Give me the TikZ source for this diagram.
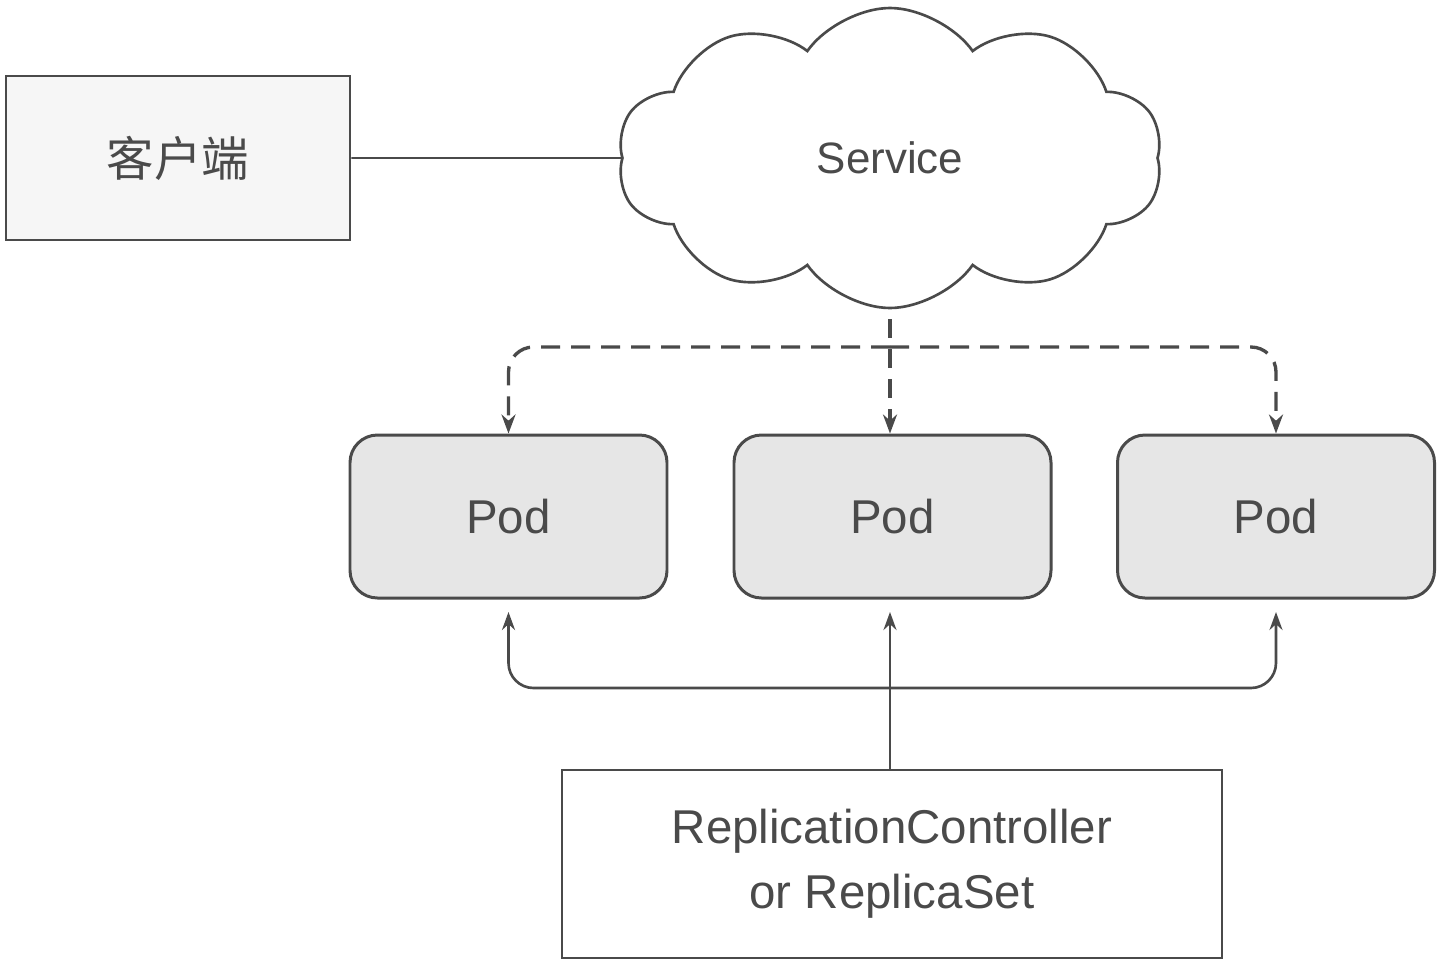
\documentclass[tikz,border=0pt]{standalone}
\usepackage{fontspec}
\setmainfont{Liberation Sans}
\newfontfamily\cjk{Noto Sans CJK SC}
\usepackage{tikz}
\usetikzlibrary{shapes.geometric, shapes.symbols, arrows, arrows.meta}
\usetikzlibrary{positioning}
\definecolor{ink}{HTML}{4A4A4A}
\definecolor{podfill}{HTML}{E6E6E6}
\definecolor{boxfill}{HTML}{F6F6F6}
\tikzstyle{arrow} = [line width=1.5pt,-{Stealth[length=0.36cm,width=0.26cm]},draw=ink]
\tikzstyle{dasharrow} = [line width=1.9pt,-{Stealth[length=0.38cm,width=0.28cm]},draw=ink,dash pattern=on 0.38cm off 0.22cm]
\tikzstyle{podbox} = [draw=ink,line width=1.7pt,fill=podfill,rounded corners=0.55cm,minimum width=6.34cm,minimum height=3.26cm,text=ink,font=\fontsize{27}{32}\selectfont]
\tikzstyle{plainbox} = [draw=ink,line width=1.5pt,text=ink,font=\fontsize{27}{37}\selectfont,align=center]

\begin{document}
\begin{tikzpicture}[thick]
\useasboundingbox (0,0) rectangle (28.88,-19.36);
\fill[white] (0,0) rectangle (28.88,-19.36);
% client and service
\node[plainbox,fill=boxfill,minimum width=6.88cm,minimum height=3.28cm] (client) at (3.56,-3.16) {\cjk 客户端};
\node[cloud,draw=ink,line width=1.5pt,fill=white,cloud puffs=10,cloud puff arc=110,minimum width=10.9cm,minimum height=6.0cm,text=ink,font=\fontsize{25}{30}\selectfont] (service) at (17.8,-3.16) {Service};
% pods
\node[podbox] (pod1) at (10.17,-10.33) {Pod};
\node[podbox] (pod2) at (17.85,-10.33) {Pod};
\node[podbox] (pod3) at (25.52,-10.33) {Pod};
\node[plainbox,minimum width=13.2cm,minimum height=3.76cm] (rc) at (17.84,-17.28) {ReplicationController\\or ReplicaSet};
\coordinate (hubtop) at (17.8,-6.94);
\coordinate (hubbot) at (17.8,-13.76);
% connectors
\draw[line width=1pt,draw=ink] (client.east) -- (service.west);
\draw[dasharrow,shorten <=0.2cm] (service.south) -- (pod2.north -| hubtop);
\draw[dasharrow,rounded corners=0.5cm] (hubtop) -| (pod1.north);
\draw[dasharrow,rounded corners=0.5cm] (hubtop) -| (pod3.north);
\draw[arrow,shorten >=0.25cm] (rc.north -| hubbot) -- (pod2.south -| hubbot);
\draw[arrow,rounded corners=0.5cm,shorten >=0.25cm] (hubbot) -| (pod1.south);
\draw[arrow,rounded corners=0.5cm,shorten >=0.25cm] (hubbot) -| (pod3.south);
\end{tikzpicture}
\end{document}
